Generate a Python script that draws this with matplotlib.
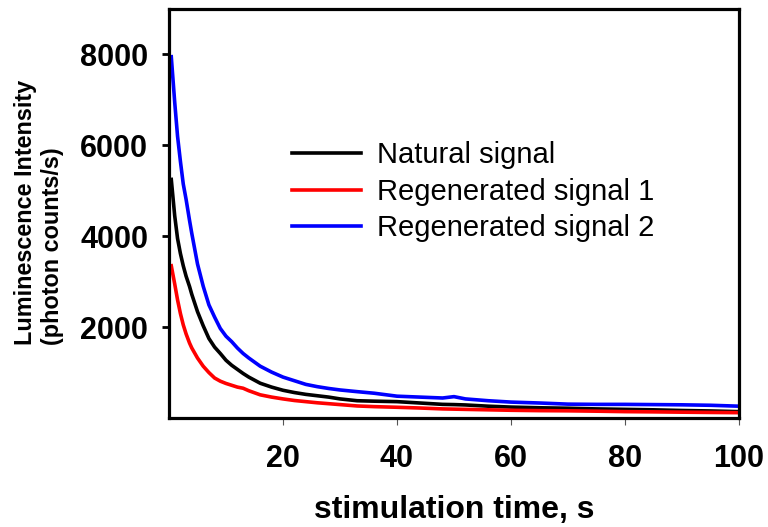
import matplotlib
matplotlib.use("Agg")
import matplotlib.pyplot as plt

plt.rcParams['font.family'] = ['Liberation Sans', 'DejaVu Sans']

time_s = [0.4, 1.0, 1.5, 2.0, 2.5, 3.0, 3.6, 4.0, 5.0, 6.0, 7.0, 8.0, 9.0, 10.0,
          11.0, 12.0, 13.0, 14.0, 16.0, 18.0, 20.0, 22.0, 24.0, 26.0, 28.0, 30.0,
          33.0, 36.0, 40.0, 44.0, 48.0, 50.0, 52.0, 56.0, 60.0, 65.0, 70.0, 75.0,
          80.0, 85.0, 90.0, 95.0, 100.0]

natural = [5250, 4450, 3950, 3620, 3350, 3120, 2895, 2720, 2340, 2030, 1750, 1560,
           1420, 1270, 1160, 1070, 980, 900, 765, 680, 610, 560, 520, 490, 460, 420,
           380, 370, 360, 330, 300, 295, 287, 260, 240, 225, 215, 200, 190, 180, 165,
           155, 140]

regen1 = [3350, 2950, 2600, 2300, 2050, 1850, 1650, 1540, 1320, 1140, 1000, 880,
          810, 760, 720, 680, 655, 600, 510, 460, 420, 385, 360, 335, 315, 295,
          265, 250, 236, 220, 200, 195, 190, 180, 170, 162, 158, 150, 140, 135, 128,
          122, 117]

regen2 = [7950, 6950, 6200, 5650, 5150, 4810, 4350, 4060, 3390, 2900, 2490, 2220,
          1970, 1800, 1680, 1540, 1420, 1320, 1140, 1010, 900, 820, 740, 690, 650,
          617, 580, 545, 480, 460, 440, 470, 420, 380, 350, 330, 305, 300, 300, 295,
          290, 280, 260]

labels = ["Natural signal", "Regenerated signal 1", "Regenerated signal 2"]
colors = ["black", "red", "blue"]

x_ticks = [20, 40, 60, 80, 100]
y_ticks = [2000, 4000, 6000, 8000]

fig = plt.figure(figsize=(7.68, 5.27), dpi=100)
W, H = 768, 527
ax = fig.add_axes([169 / W, (H - 418) / H, 570 / W, 409 / H])

for series, lab, col in zip([natural, regen1, regen2], labels, colors):
    ax.plot(time_s, series, color=col, lw=2.6, label=lab)

ax.set_xlim(0, 100)
ax.set_ylim(0, 9000)
ax.set_xticks(x_ticks)
ax.set_yticks(y_ticks)
ax.set_xticklabels([str(v) for v in x_ticks], fontsize=22, fontweight='bold')
ax.set_yticklabels([str(v) for v in y_ticks], fontsize=22, fontweight='bold')

for sp in ax.spines.values():
    sp.set_linewidth(2.3)
    sp.set_color('black')

ax.tick_params(axis='y', direction='out', length=5, width=2.0, color='black', pad=10)
ax.tick_params(axis='x', direction='out', length=5, width=0.8, color='#555555', pad=14)

ax.set_xlabel("stimulation time, s", fontsize=23, fontweight='bold', labelpad=15)

fig.text(39 / W, 1 - 212 / H, "Luminescence Intensity\n(photon counts/s)",
         rotation=90, fontsize=16.8, fontweight='bold', ha='center', va='center',
         multialignment='left', linespacing=1.2)

leg = ax.legend(loc='upper left', bbox_to_anchor=(292 / W, 1 - 141 / H),
                bbox_transform=fig.transFigure, frameon=False, fontsize=21,
                handlelength=2.35, handletextpad=0.55, labelspacing=0.3,
                borderpad=0, borderaxespad=0)

fig.savefig("out.png", dpi=100)
